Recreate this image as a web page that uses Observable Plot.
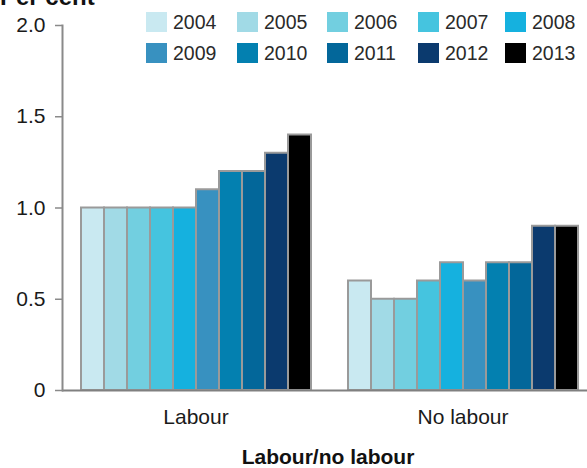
<!DOCTYPE html>
<html>
<head>
<meta charset="utf-8">
<script src="https://cdn.jsdelivr.net/npm/d3@7"></script>
<script src="https://cdn.jsdelivr.net/npm/@observablehq/plot@0.6"></script>
<style>
  html, body { margin: 0; padding: 0; background: #fff; overflow: hidden; }
  #wrap { position: relative; width: 587px; height: 468px; font-family: "Liberation Sans", Arial, sans-serif; overflow: hidden; }
  #wrap svg { position: absolute; left: 0; top: 0; display: block; }
  .ytitle { position: absolute; left: 0; top: -15px; font-size: 24px; line-height: 24px; font-weight: bold; color: #111; white-space: nowrap; }
  .xtitle { position: absolute; left: 61px; width: 534px; top: 446px; text-align: center; font-size: 21px; line-height: 21px; font-weight: bold; color: #111; white-space: nowrap; }
  .legend { position: absolute; left: 146px; top: 12px; display: grid; grid-template-columns: 91px 90px 91px 87px auto; row-gap: 11px; }
  .legend .item { display: flex; align-items: center; height: 20px; font-size: 19.5px; color: #2a2a2a; white-space: nowrap; }
  .legend .sw { width: 21px; height: 20px; margin-right: 6px; flex-shrink: 0; }
</style>
</head>
<body>
<div id="wrap"></div>
<script>
// ---- data ----
const groups = ["Labour", "No labour"];
const years = ["2004", "2005", "2006", "2007", "2008", "2009", "2010", "2011", "2012", "2013"];
const labourValues = [1.0, 1.0, 1.0, 1.0, 1.0, 1.1, 1.2, 1.2, 1.3, 1.4];
const noLabourValues = [0.6, 0.5, 0.5, 0.6, 0.7, 0.6, 0.7, 0.7, 0.9, 0.9];
const yearColors = ["#c9e9f1", "#a1dae6", "#72cfe0", "#45c4df", "#15b1df", "#3891c0", "#0380b0", "#03679a", "#0b3a6e", "#000000"];
const yTicks = [0, 0.5, 1.0, 1.5, 2.0];
const yTickLabels = ["0", "0.5", "1.0", "1.5", "2.0"];
const yTitle = "Per cent";
const xTitle = "Labour/no labour";

const data = [
  ...labourValues.map((v, i) => ({group: groups[0], year: years[i], value: v})),
  ...noLabourValues.map((v, i) => ({group: groups[1], year: years[i], value: v}))
];

const wrap = document.getElementById("wrap");

const plot = Plot.plot({
  width: 587,
  height: 468,
  marginLeft: 61,
  marginRight: -9,
  marginTop: 25,
  marginBottom: 78,
  style: {fontFamily: "'Liberation Sans', Arial, sans-serif", fontSize: "21px", color: "#1a1a1a", background: "transparent"},
  fx: {domain: groups, paddingInner: 0, paddingOuter: 0, label: null},
  x: {domain: years, paddingInner: 0, paddingOuter: 0.76, axis: null},
  y: {domain: [0, 2], label: null},
  color: {domain: years, range: yearColors},
  marks: [
    Plot.barY(data, {fx: "group", x: "year", y: "value", fill: "year", stroke: "#9a9a9a", strokeWidth: 2}),
    Plot.ruleY([0], {stroke: "#808080", strokeWidth: 2}),
    Plot.frame({anchor: "left", facetAnchor: "left", stroke: "#8a8a8a", strokeWidth: 2}),
    Plot.axisY({ticks: yTicks, tickFormat: d => yTickLabels[yTicks.indexOf(d)], tickSize: 7, tickPadding: 10, stroke: "#8a8a8a", strokeWidth: 1.5, label: null, fontSize: 21}),
    Plot.axisFx({anchor: "bottom", tickSize: 0, tickPadding: 19, label: null, fontSize: 21})
  ]
});
wrap.appendChild(plot);

const yt = document.createElement("div");
yt.className = "ytitle";
yt.textContent = yTitle;
wrap.appendChild(yt);

const xt = document.createElement("div");
xt.className = "xtitle";
xt.textContent = xTitle;
wrap.appendChild(xt);

const legend = document.createElement("div");
legend.className = "legend";
years.forEach((y, i) => {
  const item = document.createElement("div");
  item.className = "item";
  const sw = document.createElement("span");
  sw.className = "sw";
  sw.style.background = yearColors[i];
  const lab = document.createElement("span");
  lab.textContent = y;
  item.appendChild(sw);
  item.appendChild(lab);
  legend.appendChild(item);
});
wrap.appendChild(legend);
</script>
</body>
</html>
